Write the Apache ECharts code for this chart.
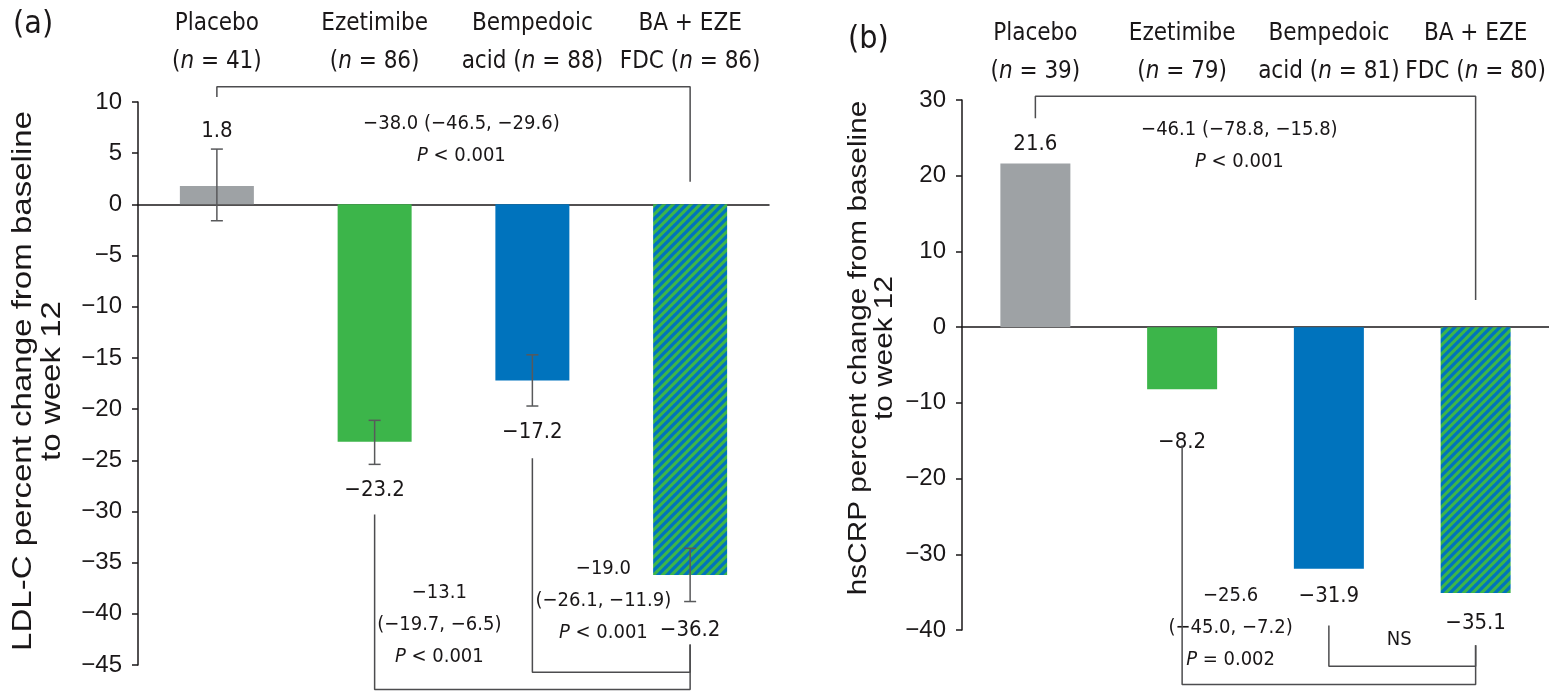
<!DOCTYPE html>
<html><head><meta charset="utf-8">
<script src="https://cdn.jsdelivr.net/npm/echarts@6/dist/echarts.min.js"></script>
<style>html,body{margin:0;padding:0;background:#fff}#c{width:1549px;height:692px}</style>
</head><body><div id="c"></div>
<script>
// ---------- data ----------
const categoryLine1 = ['Placebo', 'Ezetimibe', 'Bempedoic', 'BA + EZE'];
const categoryLine2 = ['', '', 'acid ', 'FDC '];
const nLdl = [41, 86, 88, 86];
const nCrp = [39, 79, 81, 80];
const ldlChange = [1.8, -23.2, -17.2, -36.2];
const ldlLow = [-1.6, -25.4, -19.7, -38.8];
const ldlHigh = [5.4, -21.1, -14.7, -33.6];
const crpChange = [21.6, -8.2, -31.9, -35.1];
const ldlAxis = [-45, 10, 5];   // min, max, interval
const crpAxis = [-40, 30, 10];
const ldlTitle = 'LDL-C percent change from baseline\nto week 12';
const crpTitle = 'hsCRP percent change from baseline\nto week 12';
const ldlComparisonText = [
  ['\u221238.0 (\u221246.5, \u221229.6)', '{it|P} < 0.001'],
  ['\u221213.1', '(\u221219.7, \u22126.5)', '{it|P} < 0.001'],
  ['\u221219.0', '(\u221226.1, \u221211.9)', '{it|P} < 0.001']
];
const crpComparisonText = [
  ['\u221246.1 (\u221278.8, \u221215.8)', '{it|P} < 0.001'],
  ['\u221225.6', '(\u221245.0, \u22127.2)', '{it|P} = 0.002'],
  ['NS']
];

// ---------- styles / layout ----------
const NARROW = "'Liberation Sans Narrow','Arial Narrow','DejaVu Sans Condensed',sans-serif";
const SANS = "'Liberation Sans',Arial,sans-serif";
const INK = '#1a1718';
const LINE = '#4d4d4f';
const GRAY = '#9ea2a5', GREEN = '#3cb54a', BLUE = '#0073bd';
const barColors = [GRAY, GREEN, BLUE, null];

function hatchTile() {
  const c = document.createElement('canvas');
  c.width = 9; c.height = 9;
  const g = c.getContext('2d');
  g.fillStyle = GREEN; g.fillRect(0, 0, 9, 9);
  g.strokeStyle = BLUE; g.lineWidth = 3.3;
  g.beginPath();
  for (let k = -1; k <= 2; k++) { g.moveTo(k * 9 - 1, 10); g.lineTo(k * 9 + 10, -1); }
  g.stroke();
  return c;
}
const hatch = {color: {image: hatchTile(), repeat: 'repeat'}};

const fmt = v => (v < 0 ? '\u2212' + Math.abs(v).toFixed(1) : v.toFixed(1));
const tickFmt = v => (v < 0 ? '\u2212' + Math.abs(v) : String(v));
const itRich = size => ({it: {fontStyle: 'italic', fontSize: size, fontFamily: NARROW, color: INK}});

// bracket shapes (data units) and annotation anchors (data units)
const ldlBrackets = [
  [[0, 10.5], [0, 11.5], [3, 11.5], [3, 2.2]],
  [[1, -30.3], [1, -47.4], [3, -47.4], [3, -43.0]],
  [[2, -24.8], [2, -45.7], [3, -45.7], [3, -43.0]]
];
const ldlTextAt = [[1.55, 6.3], [1.41, -41.1], [2.45, -38.75]];
const crpBrackets = [
  [[0, 27.6], [0, 30.5], [3, 30.5], [3, 3.6]],
  [[1, -15.6], [1, -47.2], [3, -47.2], [3, -42.0]],
  [[2, -39.4], [2, -44.8], [3, -44.8], [3, -42.0]]
];
const crpTextAt = [[1.39, 23.9], [1.33, -39.75], [2.48, -41.3]];
const ldlLabelDist = [44, 37, 41, 44];
const crpLabelDist = [8, 42, 17, 19];

function catLabels(ns) {
  return categoryLine1.map((c, i) => c + '\n' + categoryLine2[i] + '({it|n} = ' + ns[i] + ')');
}

function panelAxes(g, axis, topMargin, ns) {
  const xs = [
    {type: 'value', gridIndex: g, min: -0.5, max: 3.5,
     axisLine: {show: true, onZero: true, lineStyle: {color: INK, width: 1.5}},
     axisTick: {show: false}, axisLabel: {show: false}, splitLine: {show: false}},
    {type: 'category', gridIndex: g, position: 'top', data: catLabels(ns),
     axisLine: {show: false, onZero: false}, axisTick: {show: false},
     axisLabel: {interval: 0, margin: topMargin, fontSize: 24, lineHeight: 38, fontFamily: NARROW, color: INK, rich: itRich(24)}}
  ];
  const y = {type: 'value', gridIndex: g, min: axis[0], max: axis[1], interval: axis[2],
    axisLine: {show: true, onZero: false, lineStyle: {color: INK, width: 1.5}},
    axisTick: {show: true, length: 6, lineStyle: {color: INK, width: 1.5}},
    axisLabel: {margin: 16, fontSize: 24, fontFamily: SANS, color: INK, formatter: tickFmt},
    splitLine: {show: false}};
  return {xs, y};
}

function panelSeries(xBase, yIdx, values, dists, brackets, texts, textAt, low, high) {
  const s = [];
  s.push({type: 'bar', xAxisIndex: xBase, yAxisIndex: yIdx, barWidth: xBase === 0 ? 74 : 70,
    data: values.map((v, i) => ({
      value: [i, v],
      itemStyle: barColors[i] ? {color: barColors[i]} : hatch,
      label: {show: true, position: v >= 0 ? 'top' : 'bottom', distance: dists[i],
        formatter: fmt(v), fontSize: 22, fontFamily: NARROW, color: INK}
    })), z: 2});
  if (low) {
    s.push({type: 'custom', xAxisIndex: xBase, yAxisIndex: yIdx, z: 5,
      data: low.map((l, i) => [i, l, high[i]]),
      renderItem: (params, api) => {
        const a = api.coord([api.value(0), api.value(1)]);
        const b = api.coord([api.value(0), api.value(2)]);
        const st = {stroke: '#58595b', lineWidth: 1.5};
        return {type: 'group', children: [
          {type: 'line', shape: {x1: a[0], y1: a[1], x2: b[0], y2: b[1]}, style: st},
          {type: 'line', shape: {x1: a[0] - 6, y1: a[1], x2: a[0] + 6, y2: a[1]}, style: st},
          {type: 'line', shape: {x1: b[0] - 6, y1: b[1], x2: b[0] + 6, y2: b[1]}, style: st}
        ]};
      }});
  }
  brackets.forEach(br => s.push({type: 'line', xAxisIndex: xBase, yAxisIndex: yIdx, data: br,
    symbol: 'none', clip: false, silent: true, lineStyle: {color: LINE, width: 1.5}, z: 3}));
  s.push({type: 'scatter', xAxisIndex: xBase, yAxisIndex: yIdx, symbolSize: 0, clip: false, silent: true,
    itemStyle: {opacity: 1},
    data: textAt.map((p, i) => ({value: p, label: {show: true, position: 'inside', opacity: 1,
      formatter: texts[i].join('\n'), fontSize: 20, lineHeight: 32, fontFamily: NARROW, color: INK, rich: itRich(20)}}))});
  return s;
}

const A = panelAxes(0, ldlAxis, 21, nLdl);
const B = panelAxes(1, crpAxis, 9, nCrp);

function axisTitle(text, x, y, size, stretch) {
  return {type: 'text', x: x, y: y, rotation: Math.PI / 2, scaleX: stretch, silent: true,
    style: {text: text, fontSize: size, fontFamily: SANS, lineHeight: size + 1, fill: INK,
      align: 'center', verticalAlign: 'middle'}};
}

const option = {
  animation: false,
  title: [
    {text: '(a)', left: 8, top: 4, textStyle: {fontSize: 32, fontWeight: 'normal', fontFamily: NARROW, color: INK}},
    {text: '(b)', left: 843, top: 19, textStyle: {fontSize: 32, fontWeight: 'normal', fontFamily: NARROW, color: INK}}
  ],
  graphic: [
    axisTitle(ldlTitle, 38, 381, 28, 1.18),
    axisTitle(crpTitle, 872, 348, 25, 1.19)
  ],
  grid: [
    {left: 138, top: 102, width: 631, height: 563},
    {left: 962, top: 100, width: 592, height: 530}
  ],
  xAxis: [A.xs[0], A.xs[1], B.xs[0], B.xs[1]],
  yAxis: [A.y, B.y],
  series: [
    ...panelSeries(0, 0, ldlChange, ldlLabelDist, ldlBrackets, ldlComparisonText, ldlTextAt, ldlLow, ldlHigh),
    ...panelSeries(2, 1, crpChange, crpLabelDist, crpBrackets, crpComparisonText, crpTextAt, null, null)
  ]
};
const chart = echarts.init(document.getElementById('c'), null, {renderer: 'canvas'});
chart.setOption(option);
</script></body></html>
